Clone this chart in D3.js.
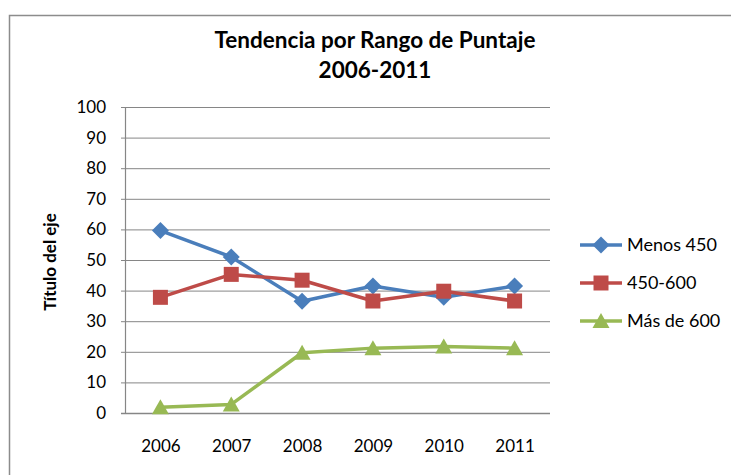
<!DOCTYPE html>
<html><head><meta charset="utf-8">
<script src="https://cdn.jsdelivr.net/npm/d3@7"></script>
<style>body{margin:0;background:#fff}svg{display:block;font-family:Lato,"Open Sans",sans-serif}</style>
</head><body>
<svg id="c" width="731" height="475"></svg>
<script>
const years = ["2006","2007","2008","2009","2010","2011"];
const menos450 = [59.6, 51, 36.5, 41.5, 37.8, 41.5];
const de450a600 = [37.8, 45.3, 43.4, 36.6, 39.8, 36.6];
const mas600 = [1.9, 2.8, 19.7, 21.2, 21.7, 21.2];
const seriesNames = ["Menos 450", "450-600", "Más de 600"];
const yTicks = [0,10,20,30,40,50,60,70,80,90,100];

const colors = ["#4a7ebb", "#be4b48", "#98b954"];
const series = [menos450, de450a600, mas600];
const FONT = "Lato, 'Open Sans', sans-serif";

// marker shapes (Excel-like)
function marker(k){
  if(k===0) return "M0,-8.5L8.5,0L0,8.5L-8.5,0Z";
  if(k===1) return "M-7.5,-7.5H7.5V7.5H-7.5Z";
  return "M0,-8L8.5,7H-8.5Z";
}

const svg = d3.select("#c");
svg.append("rect").attr("x",9.5).attr("y",15.5).attr("width",740).attr("height",480)
  .attr("fill","#fff").attr("stroke","#8c8c8c").attr("stroke-width",1.5);

const L=125, R=550, T=107, B=413;
const x = d3.scalePoint().domain(years).range([L,R]).padding(0.5);
const y = d3.scaleLinear().domain([0,100]).range([B,T]);

// gridlines
svg.append("g").selectAll("line").data(yTicks.filter(d=>d>0)).join("line")
  .attr("x1",L-4).attr("x2",R).attr("y1",d=>y(d)+0.5).attr("y2",d=>y(d)+0.5)
  .attr("stroke","#868686").attr("stroke-width",1);

// y axis
const ya = svg.append("g").attr("transform",`translate(${L},0)`)
  .call(d3.axisLeft(y).tickValues(yTicks).tickSize(0).tickPadding(19));
ya.select(".domain").attr("stroke","#868686").attr("stroke-width",1.2);
ya.selectAll("text").attr("font-size",17).attr("fill","#000").attr("font-family",FONT);

// x axis
const xa = svg.append("g").attr("transform",`translate(0,${B})`)
  .call(d3.axisBottom(x).tickSize(0).tickPadding(27));
xa.select(".domain").attr("stroke","#868686").attr("stroke-width",1.5).attr("d",`M${L-4},0.5H${R}`);
xa.selectAll("text").attr("font-size",17).attr("fill","#000").attr("font-family",FONT);

const line = d3.line().x((d,i)=>x(years[i])).y(d=>y(d));
series.forEach((s,k)=>{
  svg.append("path").datum(s).attr("d",line).attr("fill","none")
    .attr("stroke",colors[k]).attr("stroke-width",3.5).attr("stroke-linejoin","round");
  svg.append("g").selectAll("path").data(s).join("path")
    .attr("d",marker(k))
    .attr("transform",(d,i)=>`translate(${x(years[i])},${y(d)})`)
    .attr("fill",colors[k]);
});

// title
svg.append("text").attr("x",375).attr("y",48).attr("text-anchor","middle")
  .attr("font-size",22.5).attr("font-weight","bold").text("Tendencia por Rango de Puntaje");
svg.append("text").attr("x",375).attr("y",78).attr("text-anchor","middle")
  .attr("font-size",22.5).attr("font-weight","bold").text("2006-2011");

// axis title
svg.append("text").attr("transform","translate(56,262) rotate(-90)").attr("text-anchor","middle")
  .attr("font-size",17).attr("font-weight","bold").text("Título del eje");

// legend
const lg = svg.append("g");
seriesNames.forEach((n,k)=>{
  const yy = 245 + k*38;
  lg.append("line").attr("x1",580).attr("x2",622).attr("y1",yy).attr("y2",yy)
    .attr("stroke",colors[k]).attr("stroke-width",3.5);
  lg.append("path").attr("d",marker(k))
    .attr("transform",`translate(601,${yy})`).attr("fill",colors[k]);
  lg.append("text").attr("x",627).attr("y",yy+6).attr("font-size",18).text(n);
});
</script>
</body></html>
